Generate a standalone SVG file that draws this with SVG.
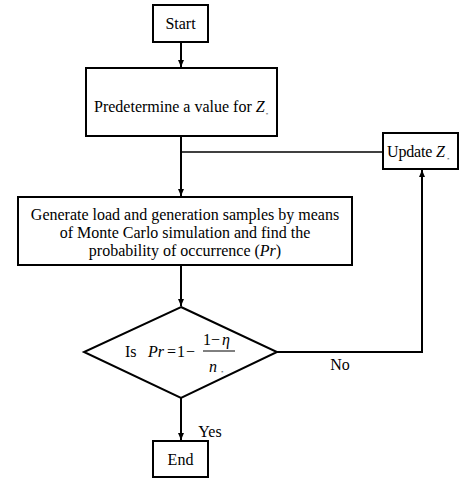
<svg xmlns="http://www.w3.org/2000/svg" width="459" height="480" viewBox="0 0 459 480">
<style>
.box{fill:#fff;stroke:#000;stroke-width:2}
.t{font-family:"Liberation Serif","Times New Roman",serif;font-size:16px;fill:#000}
.i{font-style:italic}
.sub{font-size:5px}
.c{fill:none;stroke:#000;stroke-width:2}
.c1{fill:none;stroke:#000;stroke-width:1.3}
</style>
<defs>
<marker id="ah" markerWidth="8" markerHeight="8" refX="7" refY="4" orient="auto" markerUnits="userSpaceOnUse">
<path d="M0,1 L7,4 L0,7 Z" fill="#000"/>
</marker>
</defs>
<rect width="459" height="480" fill="#fff"/>
<g id="connectors">
<path class="c" d="M181,42 V67" marker-end="url(#ah)"/>
<path class="c" d="M181,136 V196" marker-end="url(#ah)"/>
<path class="c1" d="M383,152 H181"/>
<path class="c" d="M181,265 V306" marker-end="url(#ah)"/>
<path class="c" d="M277,352 H422 V170" marker-end="url(#ah)"/>
<path class="c" d="M181,398 V440" marker-end="url(#ah)"/>
</g>
<g id="start">
<rect class="box" x="153" y="5" width="55" height="37"/>
<text class="t" x="180.5" y="29" text-anchor="middle">Start</text>
</g>
<g id="predetermine">
<rect class="box" x="86" y="68" width="191" height="68"/>
<text class="t" x="94" y="112">Predetermine a value for <tspan class="i">Z</tspan><tspan class="sub" dy="4"> *</tspan></text>
</g>
<g id="update">
<rect class="box" x="383" y="133" width="75" height="36"/>
<text class="t" x="387" y="157" textLength="58">Update <tspan class="i">Z</tspan></text>
<text class="t sub" x="447" y="161">*</text>
</g>
<g id="generate">
<rect class="box" x="18" y="197" width="334" height="68"/>
<text class="t" x="185" y="220" text-anchor="middle">Generate load and generation samples by means</text>
<text class="t" x="185" y="238" text-anchor="middle">of Monte Carlo simulation and find the</text>
<text class="t" x="185" y="256" text-anchor="middle">probability of occurrence (<tspan class="i">Pr</tspan>)</text>
</g>
<g id="decision">
<path class="box" d="M181,307 L277,352 L181,398 L84,352 Z"/>
<text class="t" x="125" y="357">Is</text>
<text class="t i" x="148" y="357">Pr</text>
<text class="t" x="167" y="357">=</text>
<text class="t" x="177" y="357">1</text>
<text class="t" x="186" y="357">−</text>
<text class="t" x="203" y="345">1</text>
<text class="t" x="211" y="345">−</text>
<text class="t i" x="222" y="345">η</text>
<line x1="203" y1="351" x2="235" y2="351" stroke="#000" stroke-width="1"/>
<text class="t i" x="209" y="372">n</text>
<text class="t sub" x="221" y="374">*</text>
</g>
<g id="end">
<rect class="box" x="153" y="441" width="55" height="36"/>
<text class="t" x="180.5" y="465" text-anchor="middle">End</text>
</g>
<text class="t" x="340" y="370" text-anchor="middle">No</text>
<text class="t" x="210" y="437" text-anchor="middle">Yes</text>
</svg>
